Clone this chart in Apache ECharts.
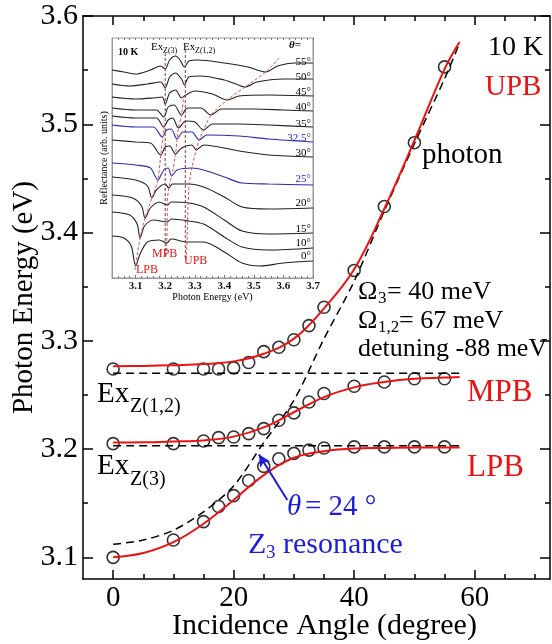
<!DOCTYPE html>
<html>
<head>
<meta charset="utf-8">
<script src="https://cdn.jsdelivr.net/npm/echarts@6/dist/echarts.min.js"></script>
<style>
  html, body { margin: 0; padding: 0; background: #fff; }
  #chart { width: 552px; height: 644px; }
</style>
</head>
<body>
<div id="chart"></div>
<script>
// ---- main panel: polariton branches vs incidence angle ----
const angles = [0, 10, 15, 17.5, 20, 22.5, 25, 27.5, 30, 32.5, 35, 40, 45, 50, 55];
const upbPoints = [3.274, 3.274, 3.274, 3.274, 3.275, 3.280, 3.290, 3.294, 3.301, 3.314, 3.331, 3.365, 3.424, 3.483, 3.553];
const mpbPoints = [3.205, 3.205, 3.2075, 3.2106, 3.2112, 3.2143, 3.2189, 3.2266, 3.2334, 3.2435, 3.2513, 3.258, 3.262, 3.265, 3.265];
const lpbPoints = [3.100, 3.116, 3.133, 3.147, 3.157, 3.171, 3.184, 3.191, 3.196, 3.199, 3.201, 3.202, 3.202, 3.202, 3.202];

const fitAngles = [0, 5, 10, 15, 20, 25, 30, 35, 40, 45, 50, 55, 57.5];
const upbFit = [3.2765, 3.2768, 3.2775, 3.2785, 3.281, 3.288, 3.302, 3.330, 3.366, 3.422, 3.485, 3.551, 3.576];
const mpbFit = [3.206, 3.2062, 3.207, 3.208, 3.2115, 3.220, 3.234, 3.248, 3.257, 3.262, 3.265, 3.266, 3.2665];
const lpbFit = [3.100, 3.104, 3.114, 3.131, 3.153, 3.176, 3.192, 3.198, 3.2005, 3.201, 3.2015, 3.2015, 3.2015];
const photon = [3.112, 3.116, 3.125, 3.142, 3.166, 3.206, 3.245, 3.302, 3.355, 3.420, 3.482, 3.542, 3.575];

const exAngles = [0, 58];
const exZ12 = [3.27, 3.27];
const exZ3 = [3.203, 3.203];

const xMajor = [0, 20, 40, 60];
const xMinor = [5, 10, 15, 25, 30, 35, 45, 50, 55, 65, 70];
const yMajor = [3.1, 3.2, 3.3, 3.4, 3.5, 3.6];
const yMinor = [3.15, 3.25, 3.35, 3.45, 3.55];

// ---- inset: reflectance spectra (offset, arb. units) ----
const insetLabels = ['55', '50', '45', '40', '35', '32.5', '30', '25', '20', '15', '10', '0'];
const r55 = [[3.02,208],[3.06,206],[3.10,204],[3.15,208],[3.185,212],[3.20,209],[3.215,218],[3.235,222],[3.25,218],[3.265,211],[3.28,217],[3.31,218],[3.40,215],[3.48,211],[3.54,206],[3.58,212],[3.64,215],[3.70,215]];
const r50 = [[3.02,194],[3.08,192],[3.14,194],[3.185,196],[3.20,190],[3.215,201],[3.235,205],[3.255,199],[3.265,193],[3.28,201],[3.32,202],[3.40,198],[3.44,194],[3.47,191],[3.51,196],[3.60,199],[3.70,199]];
const r45 = [[3.02,181],[3.10,179],[3.16,180],[3.19,181],[3.20,174],[3.215,185],[3.235,188],[3.255,180],[3.27,183],[3.30,187],[3.36,184],[3.41,178],[3.45,182],[3.55,183],[3.70,182]];
const r40 = [[3.02,170],[3.10,168],[3.17,168],[3.195,161],[3.21,171],[3.23,173],[3.255,163],[3.275,170],[3.32,170],[3.355,163],[3.39,169],[3.50,169],[3.60,168],[3.70,167]];
const r35 = [[3.02,162],[3.10,160],[3.17,160],[3.195,151],[3.21,158],[3.225,160],[3.245,150],[3.27,157],[3.30,156],[3.33,148],[3.36,154],[3.45,154],[3.55,153],[3.70,151]];
const r325 = [[3.02,153],[3.10,151],[3.16,151],[3.19,141],[3.205,148],[3.22,149],[3.24,139],[3.26,146],[3.29,146],[3.315,138],[3.34,143],[3.45,142],[3.55,139],[3.70,136]];
const r30 = [[3.02,138],[3.10,136],[3.15,135],[3.185,123],[3.20,131],[3.215,132],[3.235,124],[3.255,130],[3.29,133],[3.305,128],[3.33,133],[3.45,127],[3.55,123],[3.70,121]];
const r25 = [[3.02,115],[3.10,113],[3.15,110],[3.175,98],[3.195,108],[3.21,110],[3.222,102],[3.24,108],[3.29,110],[3.33,108],[3.40,101],[3.46,95],[3.55,94],[3.70,93]];
const r20 = [[3.02,101],[3.10,98],[3.14,92],[3.155,80],[3.17,88],[3.20,94],[3.212,90],[3.225,94],[3.28,94],[3.33,91],[3.40,81],[3.46,71],[3.55,69],[3.70,70]];
const r15 = [[3.02,83],[3.09,80],[3.12,72],[3.132,60],[3.15,70],[3.18,76],[3.207,73],[3.22,76],[3.28,75],[3.33,71],[3.40,58],[3.46,47],[3.55,44],[3.70,45]];
const r10 = [[3.02,66],[3.08,63],[3.105,54],[3.115,40],[3.13,52],[3.16,58],[3.207,56],[3.22,59],[3.28,57],[3.33,54],[3.40,41],[3.46,31],[3.55,28],[3.70,30]];
const r0 = [[3.02,42],[3.06,40],[3.085,32],[3.10,12],[3.115,24],[3.14,36],[3.18,38],[3.205,35],[3.22,39],[3.275,36],[3.33,36],[3.40,26],[3.46,15],[3.52,12],[3.60,15],[3.70,17]];
const spectra = [r55, r50, r45, r40, r35, r325, r30, r25, r20, r15, r10, r0];

const lpbTrack = [[3.098,8],[3.115,40],[3.132,60],[3.155,80],[3.175,98],[3.185,123],[3.192,141],[3.197,155]];
const mpbTrack = [[3.203,22],[3.207,56],[3.207,73],[3.212,90],[3.222,102],[3.235,124],[3.24,139],[3.245,150],[3.255,163],[3.262,180]];
const upbTrack = [[3.272,18],[3.276,57],[3.28,90],[3.29,110],[3.305,128],[3.315,138],[3.33,148],[3.355,163],[3.41,178],[3.47,191],[3.54,206],[3.585,220]];
const ex3Line = [[3.2,22],[3.2,228]];
const ex12Line = [[3.268,20],[3.268,228]];

const insetMajor = [3.1, 3.2, 3.3, 3.4, 3.5, 3.6, 3.7];
const insetMinor = [];
for (let i = 2; i <= 34; i++) {
    const v = +(3.0 + i * 0.02).toFixed(2);
    if (Math.abs(v * 10 - Math.round(v * 10)) > 1e-6) insetMinor.push(v);
}

const SERIF = '"Liberation Serif", "Times New Roman", serif';
const RED = '#ee1111';
const BLUE = '#1c1cdd';

function zip(xs, ys) {
    return xs.map((x, i) => [x, ys[i]]);
}

function tickAxis(grid, position, values, len, range, color) {
    return Object.assign({
        type: 'value',
        gridIndex: grid,
        position: position,
        axisLine: { show: false, onZero: false },
        axisLabel: { show: false },
        splitLine: { show: false },
        axisTick: { show: true, inside: true, length: len, customValues: values, lineStyle: { color: color || '#000', width: color ? 1 : 1.5 } }
    }, range);
}

const chart = echarts.init(document.getElementById('chart'), null, { renderer: 'canvas' });

const mainX = { min: -5, max: 72.5 };
const mainY = { min: 3.08, max: 3.6 };
const insetX = { min: 3.02, max: 3.7 };
const spine = { show: true, onZero: false, lineStyle: { color: '#000', width: 1.5 } };
const insetSpine = { show: true, onZero: false, lineStyle: { color: '#999', width: 1 } };

const series = [];

// inset spectra
spectra.forEach((d, i) => {
    const blue = insetLabels[i] === '32.5' || insetLabels[i] === '25';
    series.push({
        type: 'line', xAxisIndex: 4, yAxisIndex: 4, data: d, smooth: 0.3,
        showSymbol: false, silent: true,
        lineStyle: { color: blue ? '#2b2bb8' : '#222', width: 1.1 }
    });
});
[lpbTrack, mpbTrack, upbTrack].forEach(d => {
    series.push({
        type: 'line', xAxisIndex: 4, yAxisIndex: 4, data: d, smooth: 0.3,
        showSymbol: false, silent: true,
        lineStyle: { color: '#e05050', width: 1, type: [3, 2] }
    });
});
[ex3Line, ex12Line].forEach(d => {
    series.push({
        type: 'line', xAxisIndex: 4, yAxisIndex: 4, data: d,
        showSymbol: false, silent: true,
        lineStyle: { color: '#8a3a3a', width: 1, type: [3, 2] }
    });
});

// main: dashed reference lines
series.push({
    type: 'line', data: zip(fitAngles, photon), smooth: 0.3, showSymbol: false,
    lineStyle: { color: '#000', width: 1.5, type: [8, 5] },
    markLine: {
        silent: true, symbol: ['none', 'arrow'], symbolSize: [9, 12],
        label: { show: false },
        lineStyle: { color: BLUE, width: 2, type: 'solid' },
        data: [[{ coord: [28.9, 3.153] }, { coord: [24.2, 3.195] }]]
    }
});
series.push({
    type: 'line', data: zip(exAngles, exZ12), showSymbol: false,
    lineStyle: { color: '#000', width: 1.5, type: [8, 5] }
});
series.push({
    type: 'line', data: zip(exAngles, exZ3), showSymbol: false,
    lineStyle: { color: '#000', width: 1.5, type: [8, 5] }
});
// main: fitted branches
[upbFit, mpbFit, lpbFit].forEach(f => {
    series.push({
        type: 'line', data: zip(fitAngles, f), smooth: 0.4, showSymbol: false,
        lineStyle: { color: RED, width: 2 }
    });
});
// main: measured points
[upbPoints, mpbPoints, lpbPoints].forEach(p => {
    series.push({
        type: 'scatter', data: zip(angles, p), symbol: 'circle', symbolSize: 12,
        itemStyle: { color: 'rgba(0,0,0,0)', borderColor: '#000', borderWidth: 1.6 }
    });
});

function txt(x, y, s, size, opt) {
    opt = opt || {};
    return {
        type: 'text', x: x, y: y, silent: true,
        style: Object.assign({
            text: s, fontSize: size, fontFamily: SERIF,
            fontStyle: opt.italic ? 'italic' : 'normal',
            fontWeight: opt.bold ? 'bold' : 'normal',
            fill: '#000', textAlign: 'left', textVerticalAlign: 'middle'
        }, opt.style)
    };
}

const graphics = [
    // main annotations
    txt(488, 48, '10 K', 28),
    txt(485, 87, 'UPB', 29, { style: { fill: RED } }),
    txt(422, 155, 'photon', 29),
    txt(358, 292, 'Ω', 26),
    txt(378, 299, '3', 17),
    txt(387, 292, '= 40 meV', 26),
    txt(358, 321, 'Ω', 26),
    txt(378, 328, '1,2', 17),
    txt(399, 321, '= 67 meV', 26),
    txt(358, 349, 'detuning -88 meV', 26),
    txt(467, 393, 'MPB', 31, { style: { fill: RED } }),
    txt(467, 468, 'LPB', 31, { style: { fill: RED } }),
    txt(97, 394, 'Ex', 29),
    txt(130, 407, 'Z(1,2)', 20),
    txt(97, 466, 'Ex', 29),
    txt(130, 480, 'Z(3)', 20),
    txt(287, 507, 'θ', 29, { italic: true, style: { fill: BLUE } }),
    txt(305, 507, '= 24 °', 29, { style: { fill: BLUE } }),
    txt(248, 545, 'Z', 30, { style: { fill: BLUE } }),
    txt(266, 553, '3', 19, { style: { fill: BLUE } }),
    txt(283, 545, 'resonance', 30, { style: { fill: BLUE } }),
    // inset annotations
    txt(118, 52, '10 K', 10, { bold: true }),
    txt(151, 47, 'Ex', 11),
    txt(163, 51, 'Z(3)', 8),
    txt(183, 47, 'Ex', 11),
    txt(195, 51, 'Z(1,2)', 8),
    txt(289, 45, 'θ=', 11, { italic: true, bold: true }),
    txt(136, 270, 'LPB', 12, { style: { fill: RED } }),
    txt(152, 254, 'MPB', 12, { style: { fill: RED } }),
    txt(184, 261, 'UPB', 12, { style: { fill: RED } })
];
const insetLabelY = [62, 77, 92, 107, 124, 138, 153, 179, 203, 229, 243, 256];
insetLabels.forEach((s, i) => {
    const blue = s === '32.5' || s === '25';
    graphics.push(txt(311, insetLabelY[i], s + '°', 11, { style: { textAlign: 'right', fill: blue ? BLUE : '#000' } }));
});

chart.setOption({
    animation: false,
    backgroundColor: '#fff',
    textStyle: { fontFamily: SERIF },
    grid: [
        { left: 83, right: 2, top: 16, bottom: 65, containLabel: false, outerBoundsMode: 'none' },
        { left: 112, top: 38, width: 201, height: 240, containLabel: false, outerBoundsMode: 'none',
          show: true, backgroundColor: '#fff', borderColor: '#999', borderWidth: 1 }
    ],
    xAxis: [
        Object.assign({
            type: 'value', gridIndex: 0, position: 'bottom',
            name: 'Incidence Angle (degree)', nameLocation: 'middle', nameGap: 32, nameMoveOverlap: false,
            nameTextStyle: { fontSize: 30, color: '#000', fontFamily: SERIF, padding: [0, 0, 0, 16] },
            axisLine: spine,
            axisLabel: { customValues: xMajor, fontSize: 29, color: '#000', fontFamily: SERIF, margin: 5 },
            axisTick: { inside: true, length: 9, customValues: xMajor, lineStyle: { color: '#000', width: 1.5 } },
            splitLine: { show: false }
        }, mainX),
        tickAxis(0, 'bottom', xMinor, 5, mainX),
        Object.assign(tickAxis(0, 'top', xMajor, 9, mainX), { axisLine: spine }),
        tickAxis(0, 'top', xMinor, 5, mainX),
        Object.assign({
            type: 'value', gridIndex: 1, position: 'bottom',
            name: 'Photon Energy (eV)', nameLocation: 'middle', nameGap: 14, nameMoveOverlap: false,
            nameTextStyle: { fontSize: 10, color: '#000', fontFamily: SERIF },
            axisLine: insetSpine,
            axisLabel: { customValues: insetMajor, fontSize: 11, fontWeight: 'bold', color: '#111', fontFamily: SERIF, margin: 3,
                formatter: v => v.toFixed(1) },
            axisTick: { inside: true, length: 3, customValues: insetMajor, lineStyle: { color: '#777', width: 1 } },
            splitLine: { show: false }
        }, insetX),
        tickAxis(1, 'bottom', insetMinor, 2, insetX, '#777'),
        tickAxis(1, 'top', insetMinor.concat(insetMajor), 2, insetX, '#777')
    ],
    yAxis: [
        Object.assign({
            type: 'value', gridIndex: 0, position: 'left',
            name: 'Photon Energy (eV)', nameLocation: 'middle', nameGap: 44, nameMoveOverlap: false,
            nameTextStyle: { fontSize: 29, color: '#000', fontFamily: SERIF },
            axisLine: spine,
            axisLabel: { customValues: yMajor, fontSize: 30, color: '#000', fontFamily: SERIF, margin: 5,
                formatter: v => v.toFixed(1) },
            axisTick: { inside: true, length: 10, customValues: yMajor, lineStyle: { color: '#000', width: 1.5 } },
            splitLine: { show: false }
        }, mainY),
        tickAxis(0, 'left', yMinor, 5, mainY),
        Object.assign(tickAxis(0, 'right', yMajor, 10, mainY), { axisLine: spine }),
        tickAxis(0, 'right', yMinor, 5, mainY),
        {
            type: 'value', gridIndex: 1, position: 'left', min: 0, max: 240,
            name: 'Reflectance (arb. units)', nameLocation: 'middle', nameGap: 3, nameMoveOverlap: false,
            nameTextStyle: { fontSize: 10, color: '#000', fontFamily: SERIF },
            axisLine: insetSpine,
            axisLabel: { show: false }, axisTick: { show: false }, splitLine: { show: false }
        },
        {
            type: 'value', gridIndex: 1, position: 'right', min: 0, max: 240,
            axisLine: insetSpine,
            axisLabel: { show: false }, axisTick: { show: false }, splitLine: { show: false }
        }
    ],
    series: series,
    graphic: graphics
});
</script>
</body>
</html>
